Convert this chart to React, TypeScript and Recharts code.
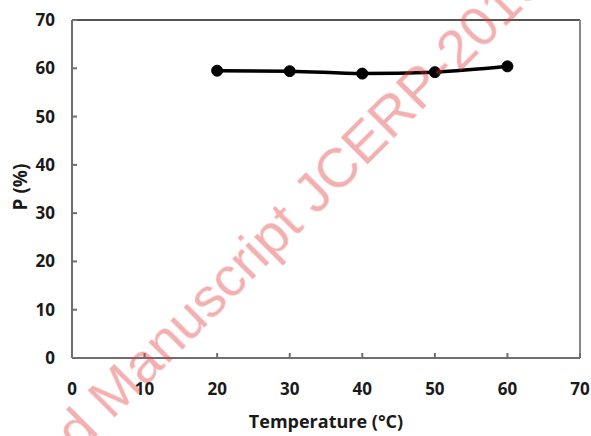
import { LineChart, Line, XAxis, YAxis, ReferenceLine } from "recharts";

// temperature (°C) vs P (%)
const temperatures = [20, 30, 40, 50, 60];
const pValues = [59.5, 59.4, 58.9, 59.2, 60.4];
const xTicks = [0, 10, 20, 30, 40, 50, 60, 70];
const yTicks = [0, 10, 20, 30, 40, 50, 60, 70];

const data = temperatures.map((t, i) => ({ temp: t, p: pValues[i] }));

const AXIS = "#6e6e6e";
const tickStyle = { fill: "#1a1a1a", fontSize: 17, fontWeight: 700 };

export default function App() {
    return (
        <div style={{ position: "absolute", left: 0, top: 0, width: 591, height: 436, background: "#fff", fontFamily: "'Open Sans', sans-serif" }}>
            <LineChart width={591} height={436} data={data} margin={{ top: 20, right: 11, bottom: 0, left: 0 }}>
                <XAxis
                    dataKey="temp"
                    type="number"
                    domain={[0, 70]}
                    ticks={xTicks}
                    height={78}
                    tickSize={-5}
                    tickMargin={30}
                    stroke={AXIS}
                    strokeWidth={2}
                    tick={tickStyle}
                />
                <YAxis
                    type="number"
                    domain={[0, 70]}
                    ticks={yTicks}
                    width={72}
                    tickSize={-5}
                    tickMargin={22}
                    stroke={AXIS}
                    strokeWidth={2}
                    tick={tickStyle}
                />
                {/* frame on top and right */}
                <ReferenceLine y={70} stroke="#555" strokeWidth={2} />
                <ReferenceLine x={70} stroke="#8a8a8a" strokeWidth={2} />
                <Line
                    type="monotone"
                    dataKey="p"
                    stroke="#000"
                    strokeWidth={3.5}
                    dot={{ r: 5.5, fill: "#000", stroke: "#000", strokeWidth: 1 }}
                    isAnimationActive={false}
                />
            </LineChart>
            <svg width={591} height={436} style={{ position: "absolute", left: 0, top: 0, pointerEvents: "none" }}>
                <text x={326} y={428} textAnchor="middle" fontSize={18} fontWeight={700} fill="#1a1a1a">
                    Temperature (°C)
                </text>
                <text x={27} y={187} textAnchor="middle" fontSize={19} fontWeight={700} fill="#1a1a1a" transform="rotate(-90 27 187)">
                    P (%)
                </text>
                <g fill="#e03a3a" opacity={0.4} fontFamily="'Liberation Sans', Arial, sans-serif" fontSize={56}>
                    <text x={305} y={227} textAnchor="end" transform="rotate(-45 305 227)">
                        Accepted Manuscript
                    </text>
                    <text x={316} y={216} textAnchor="start" transform="rotate(-45 316 216)">
                        JCERP-2019
                    </text>
                </g>
            </svg>
        </div>
    );
}
